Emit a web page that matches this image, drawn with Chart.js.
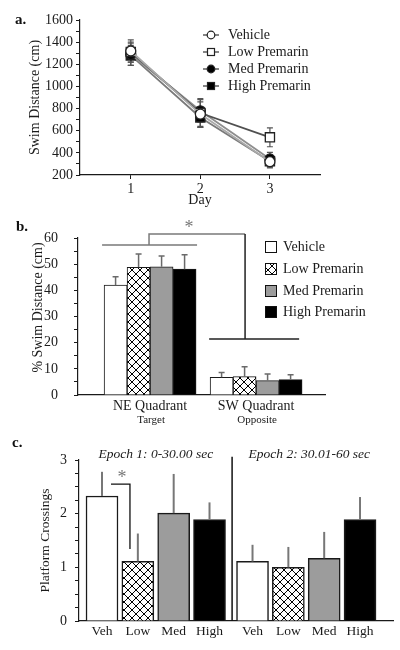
<!DOCTYPE html>
<html><head><meta charset="utf-8">
<script src="https://cdn.jsdelivr.net/npm/chart.js@4/dist/chart.umd.min.js"></script>
<style>
html,body{margin:0;padding:0;background:#fff;width:400px;height:650px;overflow:hidden;position:relative;}
canvas{position:absolute;left:0;}
.pl{position:absolute;font:bold 15px "Liberation Serif","Times New Roman",serif;color:#111;line-height:17px;z-index:5;}
</style></head><body>
<canvas id="ca" width="400" height="210" style="top:0px"></canvas>
<canvas id="cb" width="400" height="220" style="top:210px"></canvas>
<canvas id="cc" width="400" height="220" style="top:430px"></canvas>
<div class="pl" style="left:15px;top:11px">a.</div>
<div class="pl" style="left:16px;top:218px">b.</div>
<div class="pl" style="left:12px;top:434px">c.</div>
<script>
// ---------- Panel a data ----------
const days = [1, 2, 3];
const dayLabels = ['1', '2', '3'];
const seriesNames = ['Vehicle', 'Low Premarin', 'Med Premarin', 'High Premarin'];
const vehicleDist = [1320, 750, 320];
const vehicleDistErr = [100, 110, 55];
const lowDist = [1310, 760, 540];
const lowDistErr = [90, 130, 85];
const medDist = [1290, 780, 345];
const medDistErr = [100, 100, 60];
const highDist = [1280, 720, 325];
const highDistErr = [90, 90, 55];

// ---------- Panel b data ----------
const quadrants = ['NE Quadrant', 'SW Quadrant'];
const quadrantSub = ['Target', 'Opposite'];
const vehiclePct = [42.0, 6.8];
const vehiclePctErr = [3.2, 1.8];
const lowPct = [48.8, 7.0];
const lowPctErr = [5.1, 3.8];
const medPct = [49.0, 5.5];
const medPctErr = [4.1, 2.5];
const highPct = [48.1, 5.9];
const highPctErr = [5.5, 1.8];

// ---------- Panel c data ----------
const epochs = ['Epoch 1: 0-30.00 sec', 'Epoch 2: 30.01-60 sec'];
const groups = ['Veh', 'Low', 'Med', 'High'];
const epoch1Cross = [2.33, 1.11, 2.01, 1.89];
const epoch1Err = [0.45, 0.52, 0.73, 0.32];
const epoch2Cross = [1.11, 1.00, 1.17, 1.89];
const epoch2Err = [0.31, 0.38, 0.49, 0.42];

// ---------- common ----------
const serif = '"Liberation Serif", "Times New Roman", serif';
Chart.defaults.font.family = serif;
Chart.defaults.color = '#1a1a1a';
const ink = '#1a1a1a';

function makeHatch() {
  const c = document.createElement('canvas'); c.width = 8; c.height = 8;
  const x = c.getContext('2d');
  x.fillStyle = '#fff'; x.fillRect(0, 0, 8, 8);
  x.strokeStyle = '#000'; x.lineWidth = 1;
  x.beginPath();
  x.moveTo(-1, -1); x.lineTo(9, 9);
  x.moveTo(9, -1); x.lineTo(-1, 9);
  x.stroke();
  return x.createPattern(c, 'repeat');
}
const hatch = makeHatch();
const barFills = ['#ffffff', hatch, '#9c9c9c', '#000000'];

// ================= Panel a =================
const aSeries = [vehicleDist, lowDist, medDist, highDist];
const aErr = [vehicleDistErr, lowDistErr, medDistErr, highDistErr];
const aLine = ['#a9a9a9', '#505050', '#8e8e8e', '#7a7a7a'];
const aFill = ['#ffffff', '#ffffff', '#000000', '#000000'];
const aStyle = ['circle', 'rect', 'circle', 'rect'];

const errA = {
  id: 'errA',
  beforeDatasetsDraw(chart) {
    const ctx = chart.ctx, xs = chart.scales.x, ys = chart.scales.y;
    ctx.save(); ctx.strokeStyle = '#555'; ctx.lineWidth = 1.2;
    aSeries.forEach((s, i) => s.forEach((v, j) => {
      const px = xs.getPixelForValue(days[j]);
      const t = ys.getPixelForValue(v + aErr[i][j]);
      const b = ys.getPixelForValue(v - aErr[i][j]);
      ctx.beginPath();
      ctx.moveTo(px, t); ctx.lineTo(px, b);
      ctx.moveTo(px - 3, t); ctx.lineTo(px + 3, t);
      ctx.moveTo(px - 3, b); ctx.lineTo(px + 3, b);
      ctx.stroke();
    }));
    ctx.restore();
  }
};
const legA = {
  id: 'legA',
  afterDraw(chart) {
    const ctx = chart.ctx; ctx.save();
    ctx.font = '14px ' + serif; ctx.textBaseline = 'middle';
    const rows = [35, 52, 69, 86];
    seriesNames.forEach((n, i) => {
      const y = rows[i];
      ctx.strokeStyle = '#333'; ctx.lineWidth = 1.2;
      ctx.beginPath(); ctx.moveTo(203, y); ctx.lineTo(219, y); ctx.stroke();
      ctx.fillStyle = aFill[i]; ctx.strokeStyle = '#222'; ctx.lineWidth = 1.2;
      if (aStyle[i] === 'circle') {
        ctx.beginPath(); ctx.arc(211, y, 3.8, 0, Math.PI * 2); ctx.fill(); ctx.stroke();
      } else {
        ctx.fillRect(207, y - 4, 8, 8); ctx.strokeRect(207.5, y - 3.5, 7, 7);
      }
      ctx.fillStyle = ink; ctx.fillText(n, 228, y);
    });
    ctx.restore();
  }
};

new Chart(document.getElementById('ca'), {
  type: 'line',
  data: {
    datasets: aSeries.map((s, i) => ({
      label: seriesNames[i],
      data: s.map((v, j) => ({ x: days[j], y: v })),
      borderColor: aLine[i], borderWidth: 1.8, tension: 0,
      pointStyle: aStyle[i], pointRadius: aStyle[i] === 'rect' ? 6.5 : 5,
      pointBackgroundColor: aFill[i], pointBorderColor: '#222', pointBorderWidth: 1.3
    }))
  },
  options: {
    responsive: false, animation: false,
    layout: { padding: { left: 0, right: 80, top: 20, bottom: 0 } },
    plugins: { legend: { display: false }, tooltip: { enabled: false } },
    scales: {
      x: {
        type: 'linear', min: 0.27, max: 3.72,
        afterBuildTicks: s => { s.ticks = days.map(v => ({ value: v })); },
        afterFit: s => { s.height = 35; },
        ticks: { callback: v => dayLabels[days.indexOf(v)], font: { size: 14 }, color: ink, padding: 2, maxRotation: 0, autoSkip: false },
        grid: { drawOnChartArea: false, drawTicks: true, tickLength: 4, color: ink },
        border: { display: true, color: ink, width: 1.2 },
        title: { display: true, text: 'Day', font: { size: 14 }, color: ink, padding: { top: 0, bottom: 1 } }
      },
      y: {
        min: 200, max: 1600,
        afterFit: s => { s.width = 80; },
        ticks: { stepSize: 100, callback: v => (v % 200 === 0 ? v : ''), font: { size: 14 }, color: ink, padding: 3, autoSkip: false },
        grid: { drawOnChartArea: false, drawTicks: true, tickLength: 4, color: ink },
        border: { display: true, color: ink, width: 1.2 },
        title: { display: true, text: 'Swim Distance (cm)', font: { size: 14 }, color: ink, padding: { top: 26.6, bottom: 0 } }
      }
    }
  },
  plugins: [errA, legA]
});

// ================= Panel b =================
const bSeries = [vehiclePct, lowPct, medPct, highPct];
const bErr = [vehiclePctErr, lowPctErr, medPctErr, highPctErr];

const decoB = {
  id: 'decoB',
  afterDatasetsDraw(chart) {
    const ctx = chart.ctx, xs = chart.scales.x, ys = chart.scales.y;
    ctx.save();
    // error bars (upper half)
    ctx.strokeStyle = '#6a6a6a'; ctx.lineWidth = 1.5;
    bSeries.forEach((s, i) => {
      const meta = chart.getDatasetMeta(i);
      s.forEach((v, j) => {
        const px = meta.data[j].x;
        const t = ys.getPixelForValue(v + bErr[i][j]);
        const b = ys.getPixelForValue(v);
        ctx.beginPath(); ctx.moveTo(px, b); ctx.lineTo(px, t);
        ctx.moveTo(px - 3, t); ctx.lineTo(px + 3, t); ctx.stroke();
      });
    });
    // significance bracket
    const X = v => xs.getPixelForValue(v), Y = v => ys.getPixelForValue(v);
    ctx.lineWidth = 1.5; ctx.strokeStyle = '#7a7a7a';
    ctx.beginPath();
    ctx.moveTo(X(0.547), Y(57.3)); ctx.lineTo(X(1.443), Y(57.3));
    ctx.moveTo(X(0.99), Y(57.3)); ctx.lineTo(X(0.99), Y(61.5)); ctx.lineTo(X(1.896), Y(61.5));
    ctx.stroke();
    ctx.strokeStyle = '#222';
    ctx.beginPath();
    ctx.moveTo(X(1.896), Y(61.5)); ctx.lineTo(X(1.896), Y(21.4));
    ctx.moveTo(X(1.557), Y(21.4)); ctx.lineTo(X(2.406), Y(21.4));
    ctx.stroke();
    ctx.fillStyle = '#777'; ctx.font = '18px ' + serif; ctx.textAlign = 'center'; ctx.textBaseline = 'middle';
    ctx.fillText('*', X(1.368), Y(63.6));
    // sub-labels
    ctx.fillStyle = ink; ctx.font = '11px ' + serif;
    quadrantSub.forEach((t, j) => ctx.fillText(t, X(j + 1) + 1, 210));
    // legend
    ctx.textAlign = 'left'; ctx.font = '14px ' + serif;
    const rows = [37, 59, 81, 102];
    seriesNames.forEach((n, i) => {
      const y = rows[i];
      ctx.fillStyle = barFills[i]; ctx.fillRect(265, y - 6, 12, 12);
      ctx.strokeStyle = '#111'; ctx.lineWidth = 1; ctx.strokeRect(265.5, y - 5.5, 11, 11);
      ctx.fillStyle = ink; ctx.fillText(n, 283, y);
    });
    // y title
    ctx.translate(38, 97.5); ctx.rotate(-Math.PI / 2);
    ctx.textAlign = 'center'; ctx.font = '14px ' + serif;
    ctx.fillText('% Swim Distance (cm)', 0, 0);
    ctx.restore();
  }
};

new Chart(document.getElementById('cb'), {
  type: 'bar',
  data: {
    datasets: bSeries.map((s, i) => ({
      label: seriesNames[i],
      data: s.map((v, j) => ({ x: j + 1, y: v })),
      backgroundColor: barFills[i], borderColor: '#1a1a1a', borderWidth: 1,
      barThickness: 23
    }))
  },
  options: {
    responsive: false, animation: false,
    layout: { padding: { left: 0, right: 75, top: 28, bottom: 0 } },
    plugins: { legend: { display: false }, tooltip: { enabled: false } },
    scales: {
      x: {
        type: 'linear', min: 0.32, max: 2.65, offset: false,
        afterBuildTicks: s => { s.ticks = quadrants.map((q, j) => ({ value: j + 1 })); },
        afterFit: s => { s.height = 35; },
        ticks: { callback: v => quadrants[v - 1], font: { size: 14 }, color: ink, padding: 3, maxRotation: 0, autoSkip: false },
        grid: { display: false, drawTicks: false },
        border: { display: true, color: ink, width: 1.2 }
      },
      y: {
        min: 0, max: 60,
        afterFit: s => { s.width = 78; },
        ticks: { stepSize: 5, callback: v => (v % 10 === 0 ? v : ''), font: { size: 14 }, color: ink, padding: 16, autoSkip: false },
        grid: { drawOnChartArea: false, drawTicks: true, tickLength: 4, color: ink },
        border: { display: true, color: ink, width: 1.2 }
      }
    }
  },
  plugins: [decoB]
});

// ================= Panel c =================
const cVals = epoch1Cross.concat(epoch2Cross);
const cErrs = epoch1Err.concat(epoch2Err);
const cPos = groups.map((g, i) => i + 1).concat(groups.map((g, i) => i + 5.2));

const decoC = {
  id: 'decoC',
  afterDatasetsDraw(chart) {
    const ctx = chart.ctx, xs = chart.scales.x, ys = chart.scales.y;
    const X = v => xs.getPixelForValue(v), Y = v => ys.getPixelForValue(v);
    const meta = chart.getDatasetMeta(0);
    ctx.save();
    ctx.strokeStyle = '#777'; ctx.lineWidth = 2;
    cVals.forEach((v, k) => {
      const px = meta.data[k].x;
      ctx.beginPath(); ctx.moveTo(px, Y(v)); ctx.lineTo(px, Y(v + cErrs[k])); ctx.stroke();
    });
    // separator between epochs
    ctx.strokeStyle = '#111'; ctx.lineWidth = 1.5;
    ctx.beginPath(); ctx.moveTo(X(4.63), Y(3.06)); ctx.lineTo(X(4.63), Y(0)); ctx.stroke();
    // bracket
    ctx.lineWidth = 1.3;
    ctx.beginPath();
    ctx.moveTo(X(1.25), Y(2.55)); ctx.lineTo(X(1.78), Y(2.55)); ctx.lineTo(X(1.78), Y(1.34));
    ctx.stroke();
    ctx.fillStyle = '#777'; ctx.font = '18px ' + serif; ctx.textAlign = 'center'; ctx.textBaseline = 'middle';
    ctx.fillText('*', X(1.56), Y(2.66));
    // epoch titles
    ctx.fillStyle = ink; ctx.font = 'italic 13.5px ' + serif;
    ctx.fillText(epochs[0], X((cPos[0] + cPos[3]) / 2), 24);
    ctx.fillText(epochs[1], X((cPos[4] + cPos[7]) / 2) + 3, 24);
    ctx.restore();
  }
};

new Chart(document.getElementById('cc'), {
  type: 'bar',
  data: {
    datasets: [{
      label: 'Platform Crossings',
      data: cVals.map((v, k) => ({ x: cPos[k], y: v })),
      backgroundColor: cVals.map((v, k) => barFills[k % 4]),
      borderColor: '#1a1a1a', borderWidth: 1.5,
      barThickness: 32
    }]
  },
  options: {
    responsive: false, animation: false,
    layout: { padding: { left: 0, right: 7, top: 30, bottom: 0 } },
    plugins: { legend: { display: false }, tooltip: { enabled: false } },
    scales: {
      x: {
        type: 'linear', min: 0.358, max: 9.12, offset: false,
        afterBuildTicks: s => { s.ticks = cPos.map(v => ({ value: v })); },
        afterFit: s => { s.height = 29; },
        ticks: { callback: (v, i) => groups[i % 4], font: { size: 13.5 }, color: ink, padding: 2, maxRotation: 0, autoSkip: false },
        grid: { display: false, drawTicks: false },
        border: { display: true, color: ink, width: 1.2 }
      },
      y: {
        min: 0, max: 3,
        afterFit: s => { s.width = 79; },
        ticks: { stepSize: 0.25, callback: v => (Number.isInteger(v) ? v : ''), font: { size: 14 }, color: ink, padding: 8, autoSkip: false },
        grid: { drawOnChartArea: false, drawTicks: true, tickLength: 4, color: ink },
        border: { display: true, color: ink, width: 1.2 },
        title: { display: true, text: 'Platform Crossings', font: { size: 13.5 }, color: ink, padding: { top: 36.9, bottom: 0 } }
      }
    }
  },
  plugins: [decoC]
});
</script>
</body></html>
